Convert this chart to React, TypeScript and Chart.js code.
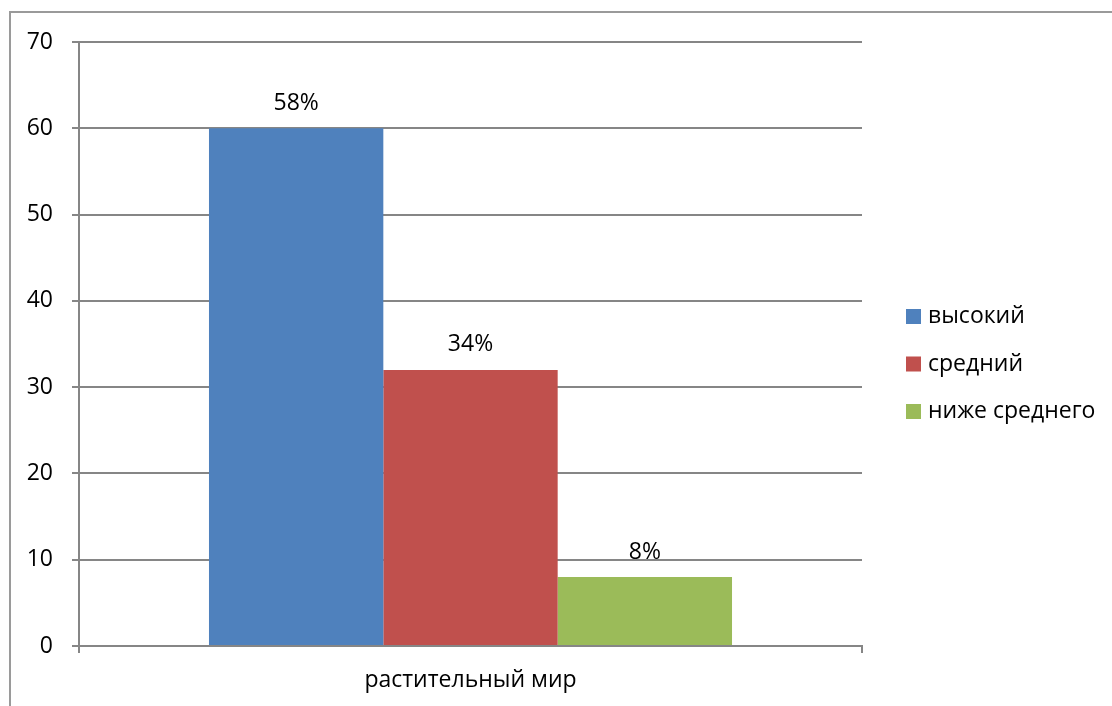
import React, { useEffect, useRef } from "react";
import { Chart, registerables } from "chart.js";

Chart.register(...registerables);

const categories = ["растительный мир"];
const seriesNames = ["высокий", "средний", "ниже среднего"];
const seriesValues = [[60], [32], [8]];
const seriesLabels = ["58%", "34%", "8%"];
const seriesColors = ["#4F81BD", "#C0504D", "#9BBB59"];
const yTicks = [0, 10, 20, 30, 40, 50, 60, 70];

const FONT = "'Open Sans', 'Noto Sans', sans-serif";
const FS = 23;

const frame = {
  id: "frame",
  beforeDraw(chart: any) {
    const { ctx, width, height } = chart;
    ctx.save();
    ctx.fillStyle = "#ffffff";
    ctx.fillRect(0, 0, width, height);
    ctx.strokeStyle = "#9a9a9a";
    ctx.lineWidth = 2;
    ctx.beginPath();
    ctx.moveTo(10, height + 5);
    ctx.lineTo(10, 12);
    ctx.lineTo(width + 5, 12);
    ctx.stroke();
    ctx.restore();
  },
};

const valueLabels = {
  id: "valueLabels",
  afterDatasetsDraw(chart: any) {
    const { ctx } = chart;
    ctx.save();
    ctx.font = `${FS}px ${FONT}`;
    ctx.fillStyle = "#000";
    ctx.textAlign = "center";
    ctx.textBaseline = "middle";
    chart.data.datasets.forEach((ds: any, i: number) => {
      const meta = chart.getDatasetMeta(i);
      meta.data.forEach((el: any) => {
        ctx.fillText(seriesLabels[i], el.x, el.y - 25);
      });
    });
    ctx.restore();
  },
};

const sideLegend = {
  id: "sideLegend",
  afterDraw(chart: any) {
    const { ctx, chartArea } = chart;
    ctx.save();
    ctx.font = `${FS}px ${FONT}`;
    ctx.textBaseline = "middle";
    ctx.textAlign = "left";
    const x0 = chartArea.right + 44;
    const yMid = (chartArea.top + chartArea.bottom) / 2 + 20;
    const gap = 47.5;
    chart.data.datasets.forEach((ds: any, i: number) => {
      const y = yMid + (i - 1) * gap;
      ctx.fillStyle = ds.backgroundColor;
      ctx.fillRect(x0, y - 7.5, 15, 15);
      ctx.fillStyle = "#000";
      ctx.fillText(ds.label, x0 + 22, y);
    });
    ctx.restore();
  },
};

export default function App() {
  const ref = useRef<HTMLCanvasElement>(null);
  useEffect(() => {
    document.body.style.margin = "0";
    const chart = new Chart(ref.current!, {
      type: "bar",
      data: {
        labels: categories,
        datasets: seriesNames.map((name, i) => ({
          label: name,
          data: seriesValues[i],
          backgroundColor: seriesColors[i],
          borderWidth: 0,
          categoryPercentage: 0.668,
          barPercentage: 1,
        })),
      },
      options: {
        animation: false,
        responsive: true,
        maintainAspectRatio: false,
        layout: { padding: { top: 42, right: 250, left: 0, bottom: 0 } },
        plugins: {
          legend: { display: false },
          tooltip: { enabled: false },
        },
        scales: {
          y: {
            min: 0,
            max: 70,
            afterBuildTicks(scale: any) {
              scale.ticks = yTicks.map((v) => ({ value: v }));
            },
            afterFit(scale: any) {
              scale.width = 79;
            },
            ticks: {
              color: "#000",
              font: { family: FONT, size: FS },
              padding: 19,
            },
            grid: {
              color: "#868686",
              lineWidth: 2,
              tickLength: 7,
              drawTicks: true,
            },
            border: { display: true, color: "#868686", width: 2 },
          },
          x: {
            afterFit(scale: any) {
              scale.height = 60;
            },
            ticks: {
              color: "#000",
              font: { family: FONT, size: FS },
              padding: 14,
            },
            grid: {
              offset: true,
              drawOnChartArea: false,
              drawTicks: true,
              tickLength: 7,
              color: "#868686",
              lineWidth: 2,
            },
            border: { display: true, color: "#868686", width: 2 },
          },
        },
      },
      plugins: [frame, valueLabels, sideLegend],
    });
    return () => chart.destroy();
  }, []);
  return (
    <div style={{ width: 1112, height: 706, position: "relative" }}>
      <canvas ref={ref} />
    </div>
  );
}
